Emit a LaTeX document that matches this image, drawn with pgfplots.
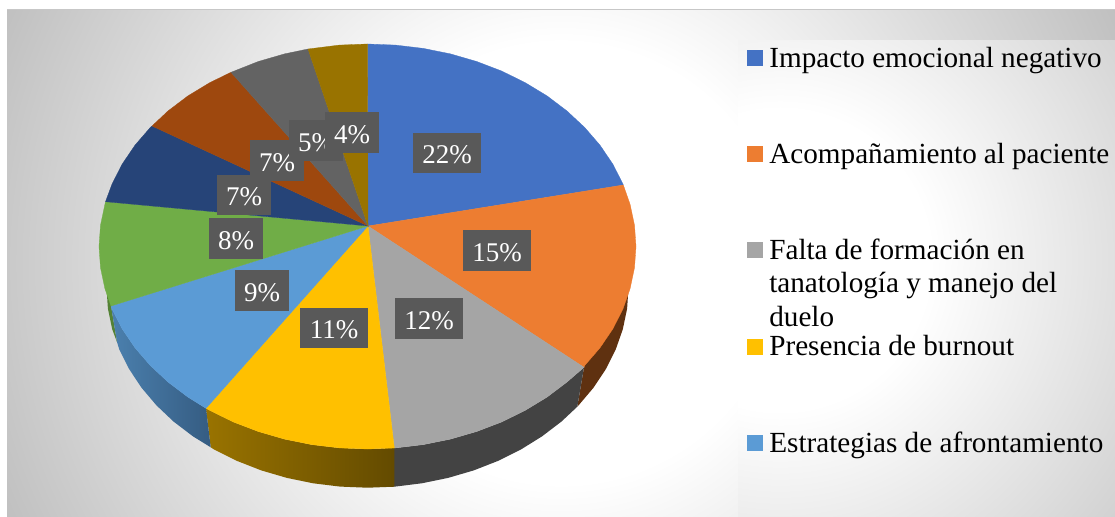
\documentclass[border=0pt]{standalone}
\usepackage{fontspec}
\setmainfont{Liberation Serif}
\usepackage{pgfplots}
\pgfplotsset{compat=1.18}
\definecolor{cA}{HTML}{4472C4}
\definecolor{cB}{HTML}{ED7D31}
\definecolor{cC}{HTML}{A5A5A5}
\definecolor{cD}{HTML}{FFC000}
\definecolor{cE}{HTML}{5B9BD5}
\definecolor{cF}{HTML}{70AD47}
\definecolor{cG}{HTML}{264478}
\definecolor{cH}{HTML}{9E480E}
\definecolor{cI}{HTML}{636363}
\definecolor{cJ}{HTML}{997300}
\definecolor{lbl}{HTML}{595959}
\pgfdeclareradialshading{bgA}{\pgfpoint{0bp}{0bp}}{rgb(0bp)=(1,1,1); rgb(220bp)=(1,1,1); rgb(610bp)=(.753,.753,.753); rgb(660bp)=(.74,.74,.74)}
\pgfdeclareradialshading{bgB}{\pgfpoint{0bp}{0bp}}{rgb(0bp)=(1,1,1); rgb(150bp)=(1,1,1); rgb(420bp)=(.824,.824,.824); rgb(480bp)=(.80,.80,.80)}
\newcommand\LE[1]{\parbox[t]{340bp}{\raggedright #1}}
\tikzset{plab/.style={fill=lbl,text=white,minimum width=68bp,minimum height=40.5bp,inner sep=0pt,text height=21bp,text depth=0bp,font=\fontsize{27bp}{30bp}\selectfont},
 plabs/.style={plab,minimum width=54bp}}
\begin{document}
\begin{tikzpicture}
\path[use as bounding box] (0,0) rectangle (1115bp,517bp);
\fill[white] (0,0) rectangle (1115bp,517bp);
\begin{scope}
\clip (7bp,0bp) rectangle (1115bp,507.5bp);
\node[inner sep=0pt] at (561bp,254bp) {\pgfuseshading{bgA}};
\end{scope}
\begin{scope}
\clip (738bp,0bp) rectangle (1115bp,476bp);
\node[inner sep=0pt] at (780bp,257bp) {\pgfuseshading{bgB}};
\end{scope}
\draw[color=black!22,line width=1bp] (7bp,507.5bp) -- (1115bp,507.5bp);
\begin{axis}[
 scale only axis,width=1115bp,height=517bp,
 xmin=0,xmax=1115,ymin=0,ymax=517,y dir=reverse,
 hide axis,clip=false,no markers,
 legend style={at={(axis cs:747,46.7)},anchor=north west,draw=none,fill=none,inner sep=0pt,outer sep=0pt,
  row sep=0pt,column sep=0pt,nodes={inner sep=0pt,outer sep=0pt,text height=20.3bp,text depth=76bp},
  font=\fontsize{29.2bp}{33.3bp}\selectfont},
 legend cell align=left,
 legend image code/.code={\fill[#1] (0bp,30bp) rectangle (15bp,45bp);\path (0bp,0bp) (22bp,0bp);},
]
% side walls
\addplot[forget plot,draw=none,fill=black!0!cF!75!black] coordinates {(111,306)(117,342)(112.2,329.3)(107.9,308.6)(106.5,287.7)(125,285)} -- cycle;
\addplot[forget plot,draw=none,fill={rgb,255:red,95;green,49;blue,16}] coordinates {(584,367.3)(600,300)(628.5,287.7)(627.1,308.6)(622.8,329.3)(615.7,349.5)(605.9,369.0)(593.5,387.7)(578.6,405.3)(577.3,406.7)} -- cycle;
\addplot[forget plot,draw=none,fill={rgb,255:red,67;green,67;blue,67}] coordinates {(584,367.3)(567.0,382.0)(547.2,397.0)(525.3,410.3)(501.8,421.9)(476.7,431.5)(450.5,439.1)(423.3,444.6)(395.6,447.9)(385,447)(385,486.9)(394.3,486.7)(421.8,483.3)(448.1,477.9)(473.7,470.4)(498.0,460.9)(520.9,449.5)(542.1,436.3)(561.5,421.5)(577.3,406.7)} -- cycle;
\addplot[forget plot,draw=none,left color=cJ,middle color=cJ!65!black,right color=cJ!65!black] coordinates {(394.3,448.0)(367.5,449)(339.4,447.9)(311.7,444.6)(284.5,439.1)(258.3,431.5)(233.2,421.9)(209.7,410.3)(206,408.3)(210.7,447.3)(214.1,449.5)(237.0,460.9)(261.3,470.4)(286.9,477.9)(313.2,483.3)(340.2,486.6)(367.5,487.7)(394.3,486.7)} -- cycle;
\addplot[forget plot,draw=none,left color={rgb,255:red,75;green,128;blue,174},right color={rgb,255:red,53;green,92;blue,130}] coordinates {(206,408.3)(187.8,397.0)(168.0,382.0)(150.3,365.5)(135.0,347.8)(122.2,328.9)(112.1,309.1)(111,306)(117,342)(119.3,349.5)(129.1,369.0)(141.5,387.7)(156.4,405.3)(173.5,421.5)(192.9,436.3)(210.7,447.3)} -- cycle;
% top faces
\addplot[fill=cA,draw=cA,line width=.3bp] coordinates {(368,226)(367.5,44)(395.6,45.1)(423.3,48.4)(450.5,53.9)(476.7,61.5)(501.8,71.1)(525.3,82.7)(547.2,96.0)(567.0,111.0)(584.7,127.5)(600.0,145.2)(612.8,164.1)(622.9,183.9)(623.3,185)} -- cycle;
\addlegendentry{\LE{Impacto emocional negativo}}
\addplot[fill=cB,draw=cB,line width=.3bp] coordinates {(368,226)(623.3,185)(630.1,204.4)(634.5,225.3)(636,246.5)(634.5,267.7)(630.1,288.6)(622.9,309.1)(612.8,328.9)(600.0,347.8)(584.7,365.5)(584,367.3)} -- cycle;
\addlegendentry{\LE{Acompañamiento al paciente}}
\addplot[fill=cC,draw=cC,line width=.3bp] coordinates {(368,226)(584,367.3)(567.0,382.0)(547.2,397.0)(525.3,410.3)(501.8,421.9)(476.7,431.5)(450.5,439.1)(423.3,444.6)(395.6,447.9)(394.3,448.0)} -- cycle;
\addlegendentry{\LE{Falta de formación en\\tanatología y manejo del\\duelo}}
\addplot[fill=cD,draw=cD,line width=.3bp] coordinates {(368,226)(394.3,448.0)(367.5,449)(339.4,447.9)(311.7,444.6)(284.5,439.1)(258.3,431.5)(233.2,421.9)(209.7,410.3)(206,408.3)} -- cycle;
\addlegendentry{\LE{Presencia de burnout}}
\addplot[fill=cE,draw=cE,line width=.3bp] coordinates {(368,226)(206,408.3)(187.8,397.0)(168.0,382.0)(150.3,365.5)(135.0,347.8)(122.2,328.9)(112.1,309.1)(111,306)} -- cycle;
\addlegendentry{\LE{Estrategias de afrontamiento}}
\addplot[forget plot,fill=cF,draw=cF,line width=.3bp] coordinates {(368,226)(111,306)(104.9,288.6)(100.5,267.7)(99,246.5)(100.5,225.3)(104.9,204.4)(105.5,201.7)} -- cycle;
\addplot[forget plot,fill=cG,draw=cG,line width=.3bp] coordinates {(368,226)(105.5,201.7)(112.1,183.9)(122.2,164.1)(135.0,145.2)(150.3,127.5)(152,126)} -- cycle;
\addplot[forget plot,fill=cH,draw=cH,line width=.3bp] coordinates {(368,226)(152,126)(168.0,111.0)(187.8,96.0)(209.7,82.7)(231,72.3)} -- cycle;
\addplot[forget plot,fill=cI,draw=cI,line width=.3bp] coordinates {(368,226)(231,72.3)(258.3,61.5)(284.5,53.9)(308,49)} -- cycle;
\addplot[forget plot,fill=cJ,draw=cJ,line width=.3bp] coordinates {(368,226)(308,49)(339.4,45.1)(367.5,44)} -- cycle;
% data labels
\node[plab] at (axis cs:447,153) {22\%};
\node[plab] at (axis cs:497,250.5) {15\%};
\node[plab] at (axis cs:429,318.5) {12\%};
\node[plab] at (axis cs:334,328) {11\%};
\node[plabs] at (axis cs:262,290.5) {9\%};
\node[plabs] at (axis cs:236,238.5) {8\%};
\node[plabs] at (axis cs:244,195) {7\%};
\node[plabs] at (axis cs:277,160.5) {7\%};
\node[plabs] at (axis cs:316,140.5) {5\%};
\node[plabs] at (axis cs:352,132.5) {4\%};
\end{axis}
\end{tikzpicture}
\end{document}
